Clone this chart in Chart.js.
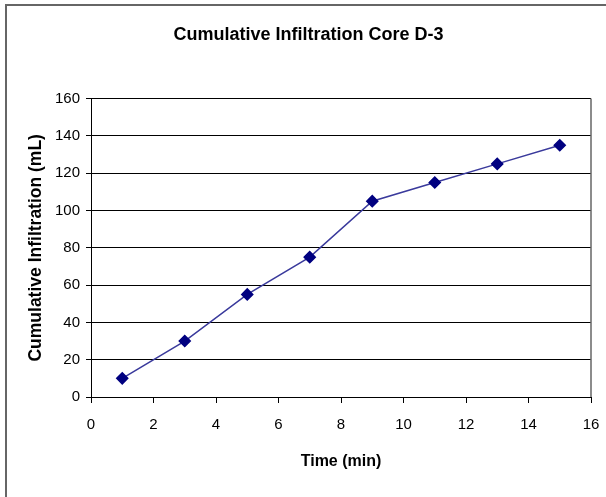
<!DOCTYPE html>
<html>
<head>
<meta charset="utf-8">
<script src="https://cdn.jsdelivr.net/npm/chart.js@4"></script>
<style>
  html, body { margin: 0; padding: 0; background: #fff; overflow: hidden; }
  #frame { position: absolute; left: 5px; top: 4px; width: 700px; height: 600px; border: 2px solid #666; }
  #chart { position: absolute; left: 0; top: 0; }
</style>
</head>
<body>
<div id="frame"></div>
<canvas id="chart" width="606" height="497"></canvas>
<script>
// time (min) and cumulative infiltration (mL)
const times = [1, 3, 5, 7, 9, 11, 13, 15];
const infiltration = [10, 30, 55, 75, 105, 115, 125, 135];

const xTicks = [0, 2, 4, 6, 8, 10, 12, 14, 16];
const yTicks = [0, 20, 40, 60, 80, 100, 120, 140, 160];

const points = times.map((t, i) => ({ x: t, y: infiltration[i] }));

const rightBorder = {
    id: 'rightBorder',
    afterDraw(chart) {
        const a = chart.chartArea;
        const ctx = chart.ctx;
        ctx.save();
        ctx.strokeStyle = '#666';
        ctx.lineWidth = 1.5;
        ctx.beginPath();
        ctx.moveTo(a.right, a.top);
        ctx.lineTo(a.right, a.bottom);
        ctx.stroke();
        ctx.restore();
    }
};

const ctx = document.getElementById('chart').getContext('2d');
new Chart(ctx, {
    type: 'line',
    data: {
        datasets: [{
            data: points,
            borderColor: '#3a3a9c',
            borderWidth: 1.5,
            pointStyle: 'rectRot',
            pointRadius: 5.5,
            pointBackgroundColor: '#000080',
            pointBorderColor: '#000080',
            tension: 0
        }]
    },
    options: {
        responsive: false,
        devicePixelRatio: 1,
        animation: false,
        layout: { padding: { left: 26, right: 15, top: 0, bottom: 26 } },
        plugins: {
            legend: { display: false },
            tooltip: { enabled: false },
            title: {
                display: true,
                text: 'Cumulative Infiltration Core D-3',
                color: '#000',
                font: { family: 'Liberation Sans', size: 18, weight: 'bold' },
                padding: { top: 24, bottom: 53 }
            }
        },
        scales: {
            x: {
                type: 'linear',
                min: 0,
                max: 16,
                afterBuildTicks: function(scale) {
                    scale.ticks = xTicks.map(v => ({ value: v }));
                },
                afterFit: function(scale) {
                    scale.height = 74;
                    scale.paddingRight = 0;
                    scale.paddingLeft = 0;
                },
                grid: { drawOnChartArea: false, color: '#000', tickLength: 6 },
                border: { color: '#000', width: 1 },
                ticks: {
                    color: '#000',
                    padding: 13,
                    maxRotation: 0,
                    font: { family: 'Liberation Sans', size: 15 }
                },
                title: {
                    display: true,
                    text: 'Time (min)',
                    color: '#000',
                    padding: 0,
                    font: { family: 'Liberation Sans', size: 16, weight: 'bold' }
                }
            },
            y: {
                min: 0,
                max: 160,
                afterBuildTicks: function(scale) {
                    scale.ticks = yTicks.map(v => ({ value: v }));
                },
                afterFit: function(scale) { scale.width = 65; },
                grid: { color: '#000', lineWidth: 1, tickLength: 5 },
                border: { color: '#000', width: 1 },
                ticks: {
                    color: '#000',
                    padding: 6,
                    font: { family: 'Liberation Sans', size: 15 }
                },
                title: {
                    display: true,
                    text: 'Cumulative Infiltration (mL)',
                    color: '#000',
                    padding: 0,
                    font: { family: 'Liberation Sans', size: 17.5, weight: 'bold' }
                }
            }
        }
    },
    plugins: [rightBorder]
});
</script>
</body>
</html>
